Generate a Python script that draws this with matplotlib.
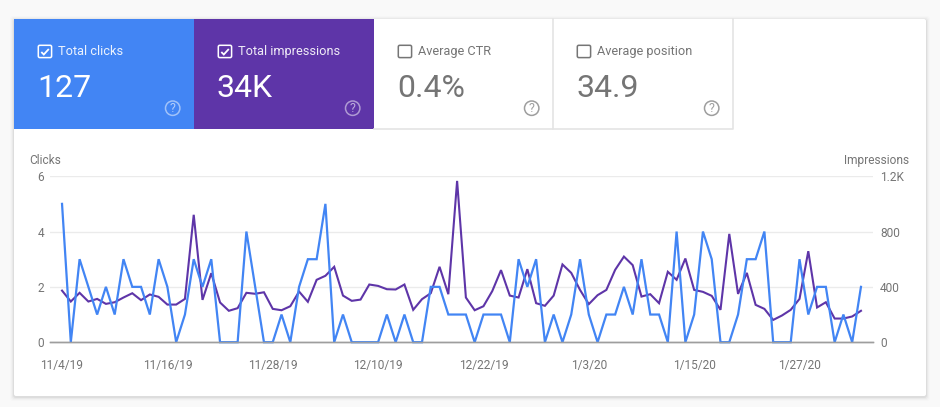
import pandas as pd
import matplotlib
matplotlib.use("Agg")
import matplotlib.pyplot as plt
from matplotlib.patches import FancyBboxPatch, Rectangle, Circle

plt.rcParams['font.family'] = ['Roboto', 'DejaVu Sans']

clicks = [5, 0, 3, 2, 1, 2, 1, 3, 2, 2,
          1, 3, 2, 0, 1, 3, 2, 3, 0, 0,
          0, 4, 2, 0, 0, 1, 0, 2, 3, 3,
          5, 0, 1, 0, 0, 0, 0, 1, 0, 1,
          0, 0, 2, 2, 1, 1, 1, 0, 1, 1,
          1, 0, 3, 2, 3, 0, 1, 0, 1, 3,
          1, 0, 1, 1, 2, 1, 3, 1, 1, 0,
          4, 0, 1, 4, 3, 0, 0, 1, 3, 3,
          4, 0, 0, 0, 3, 1, 2, 2, 0, 1,
          0, 2]
impressions = [373, 294, 357, 294, 313, 277, 289, 323, 354, 304,
               345, 328, 272, 272, 313, 921, 306, 499, 287, 227,
               246, 357, 350, 361, 241, 231, 260, 366, 292, 451,
               480, 545, 337, 299, 308, 417, 407, 383, 381, 417,
               234, 311, 354, 545, 347, 1166, 323, 231, 260, 369,
               521, 337, 323, 528, 282, 263, 337, 562, 501, 378,
               275, 340, 378, 523, 619, 557, 330, 347, 282, 509,
               451, 605, 378, 364, 335, 234, 783, 349, 501, 270,
               241, 161, 193, 234, 313, 658, 251, 289, 171, 171,
               186, 227]
dates = pd.date_range("2019-11-04", periods=len(clicks))

tile_titles = ["Total clicks", "Total impressions", "Average CTR", "Average position"]
tile_values = ["127", "34K", "0.4%", "34.9"]
tile_colors = ["#4285f4", "#5e35a8", "white", "white"]
tile_checked = [True, True, False, False]
tile_left = [14, 194, 374, 553]
tile_right = [194, 374, 553, 733]

click_ticks = [0, 2, 4, 6]
impression_ticks = [0, 400, 800, 1200]
impression_labels = ["0", "400", "800", "1.2K"]
date_ticks = pd.date_range("2019-11-04", periods=8, freq="12D")
date_labels = ["11/4/19", "11/16/19", "11/28/19", "12/10/19", "12/22/19", "1/3/20", "1/15/20", "1/27/20"]

GREY = "#757575"

fig = plt.figure(figsize=(9.4, 4.07), dpi=100, facecolor="#f9f9f9")

# page layer, in pixels
bg = fig.add_axes([0, 0, 1, 1])
bg.set_xlim(0, 940)
bg.set_ylim(407, 0)
bg.axis("off")

# soft card shadow
for grow, alpha in [(4, 0.012), (3, 0.02), (2, 0.03), (1, 0.05)]:
    bg.add_patch(FancyBboxPatch((14 - grow, 19 - grow + 1), 912 + 2 * grow, 377 + 2 * grow,
                                boxstyle="round,pad=0,rounding_size=3", fc="black", ec="none", alpha=alpha))
bg.add_patch(FancyBboxPatch((14, 19), 912, 377, boxstyle="round,pad=0,rounding_size=2", fc="white", ec="none"))

for i in range(4):
    left, right = tile_left[i], tile_right[i]
    active = tile_checked[i]
    fg = "white" if active else GREY
    bg.add_patch(Rectangle((left, 19), right - left, 110, fc=tile_colors[i], ec="none"))
    if not active:
        bg.plot([left, right, right], [128.5, 128.5, 19], color="#e4e4e4", lw=1.2)

    # checkbox
    bx = left + 24.3
    bg.add_patch(FancyBboxPatch((bx, 45.3), 13.3, 12.3, boxstyle="round,pad=0,rounding_size=1.5",
                                fc="none", ec=fg, lw=1.1))
    if active:
        bg.plot([bx + 3, bx + 5.5, bx + 10.5], [52, 54.5, 49], color="white", lw=1.3,
                solid_capstyle="butt", solid_joinstyle="miter")

    bg.text(left + 44, 55, tile_titles[i], color=fg, fontsize=9.15, va="baseline", ha="left",
            alpha=0.9 if active else 1)
    bg.text(left + 23, 96.8, tile_values[i], color=fg, fontsize=23, va="baseline", ha="left")

    # help icon
    hx = right - 21.3
    bg.add_patch(Circle((hx, 108.2), 7.2, fc="none", ec="white" if active else "#9e9e9e", lw=1.1,
                        alpha=0.5 if active else 1))
    bg.text(hx, 108.4, "?", color="white" if active else "#9e9e9e", fontsize=9, ha="center", va="center",
            alpha=0.6 if active else 1)

# chart, left axis on top so the clicks line sits over the impressions line
ax = fig.add_axes([50 / 940, (407 - 342.2) / 407, 823 / 940, 166 / 407])
ax2 = ax.twinx()
ax.set_zorder(ax2.get_zorder() + 1)
ax.patch.set_visible(False)

ax2.plot(dates, impressions, color="#5e35a8", lw=1.5, solid_joinstyle="miter")
ax.plot(dates, clicks, color="#4285f4", lw=1.6, solid_joinstyle="miter", clip_on=False)

ax.set_xlim(dates[0] - pd.Timedelta(days=1.37), dates[-1] + pd.Timedelta(days=1.37))
ax.set_ylim(0, 6)
ax2.set_ylim(0, 1200)

ax.set_xticks(date_ticks)
ax.set_xticklabels(date_labels)
ax.set_yticks(click_ticks)
ax2.set_yticks(impression_ticks)
ax2.set_yticklabels(impression_labels)

ax.tick_params(axis="x", length=0, pad=11.8, labelsize=8.6, labelcolor=GREY)
ax.tick_params(axis="y", length=0, pad=4.3, labelsize=8.6, labelcolor=GREY)
ax2.tick_params(axis="y", length=0, pad=5, labelsize=8.6, labelcolor=GREY)

ax2.grid(axis="y", color="#ebebeb", lw=1)
ax2.set_axisbelow(True)
for a in (ax, ax2):
    for side in ("top", "left", "right"):
        a.spines[side].set_visible(False)
    a.spines["bottom"].set_color("#9e9e9e")
    a.spines["bottom"].set_linewidth(1)

bg.text(29.5, 164, "Clicks", color=GREY, fontsize=8.6, ha="left", va="baseline")
bg.text(909, 164, "Impressions", color=GREY, fontsize=8.6, ha="right", va="baseline")

fig.savefig("out.png", dpi=100, facecolor=fig.get_facecolor())
